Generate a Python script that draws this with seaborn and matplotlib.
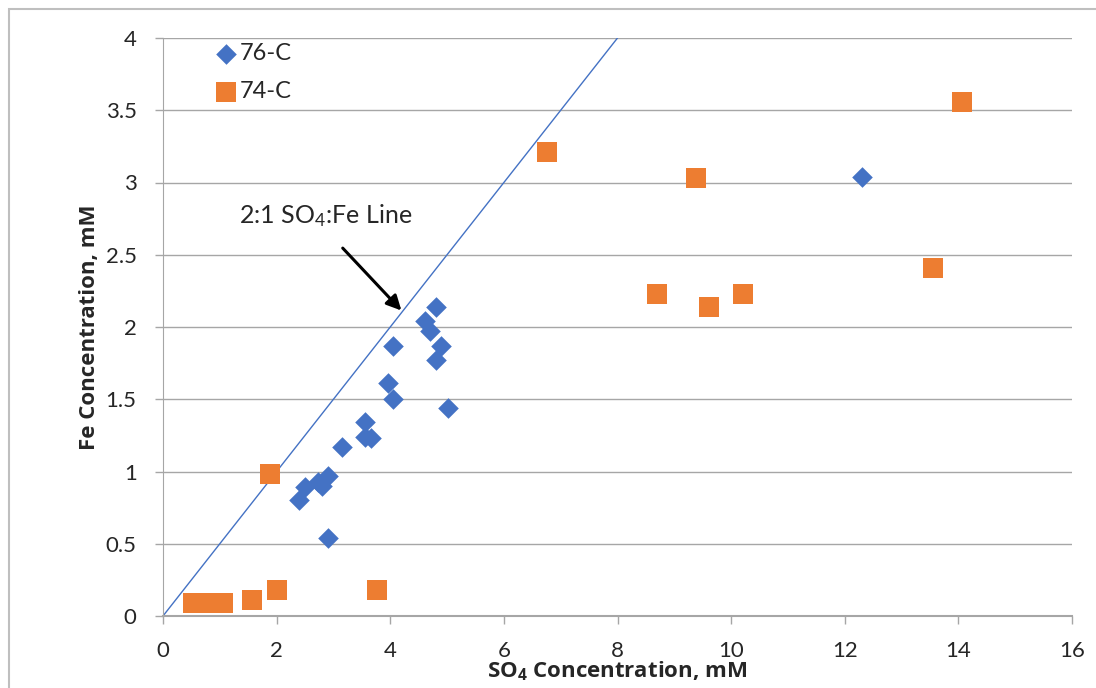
import matplotlib
matplotlib.use('Agg')
import matplotlib.pyplot as plt
import seaborn as sns
import pandas as pd

# 76-C samples (diamonds)
so4_76 = [2.39, 2.50, 2.73, 2.80, 2.90, 2.90, 3.15, 3.56, 3.56, 3.66, 3.96, 4.05,
          4.05, 4.61, 4.70, 4.81, 4.81, 4.89, 5.02, 12.31]
fe_76 = [0.80, 0.89, 0.93, 0.90, 0.97, 0.54, 1.17, 1.34, 1.24, 1.23, 1.61, 1.50,
         1.87, 2.04, 1.97, 2.14, 1.77, 1.87, 1.44, 3.04]

# 74-C samples (squares)
so4_74 = [0.53, 0.79, 1.06, 1.57, 2.00, 1.88, 3.77, 6.76, 9.38, 8.70, 9.61, 10.21,
          13.56, 14.07]
fe_74 = [0.09, 0.09, 0.09, 0.11, 0.18, 0.98, 0.18, 3.21, 3.03, 2.23, 2.14, 2.23,
         2.41, 3.56]

# 2:1 SO4:Fe reference line
line_so4 = [0, 8]
line_fe = [0, 4]

xticks = [0, 2, 4, 6, 8, 10, 12, 14, 16]
yticks = [0, 0.5, 1, 1.5, 2, 2.5, 3, 3.5, 4]
ytick_labels = ['0', '0.5', '1', '1.5', '2', '2.5', '3', '3.5', '4']

sns.set_style('white')
plt.rcParams['font.family'] = ['Lato', 'DejaVu Sans']
plt.rcParams['mathtext.default'] = 'regular'

blue = '#4472C4'
orange = '#ED7D31'
grid = '#a6a6a6'

df76 = pd.DataFrame({'so4': so4_76, 'fe': fe_76})
df74 = pd.DataFrame({'so4': so4_74, 'fe': fe_74})

fig = plt.figure(figsize=(10.96, 6.88), dpi=100)
ax = fig.add_axes([163/1096, 1 - 616/688, (1072-163)/1096, (616-38)/688])

ax.plot(line_so4, line_fe, color=blue, lw=1.0, zorder=2)
sns.scatterplot(data=df76, x='so4', y='fe', marker='D', s=110, color=blue,
                linewidth=0, label='76-C', ax=ax, zorder=3)
sns.scatterplot(data=df74, x='so4', y='fe', marker='s', s=200, color=orange,
                linewidth=0, label='74-C', ax=ax, zorder=3)

ax.set_xlim(0, 16)
ax.set_ylim(0, 4)
ax.set_xticks(xticks)
ax.set_yticks(yticks)
ax.set_yticklabels(ytick_labels)
ax.yaxis.grid(True, color=grid, lw=1.0)
ax.xaxis.grid(False)
ax.set_axisbelow(True)

for s in ['top', 'right']:
    ax.spines[s].set_visible(False)
ax.spines['left'].set_color(grid)
ax.spines['bottom'].set_color(grid)
ax.spines['bottom'].set_linewidth(1.5)
ax.tick_params(axis='x', length=6, color=grid, width=1.0, pad=12, labelsize=16,
               bottom=True, direction='out')
ax.tick_params(axis='y', length=6, color=grid, width=1.0, pad=13, labelsize=16,
               left=True, direction='out')

label_font = dict(family=['Open Sans', 'DejaVu Sans'], fontsize=16, fontweight='bold')
ax.set_xlabel('SO$_4$ Concentration, mM', labelpad=-1, **label_font)
ax.set_ylabel('Fe Concentration, mM', labelpad=4, **label_font)

ax.annotate('', xy=(4.23, 2.10), xytext=(3.13, 2.56),
            arrowprops=dict(arrowstyle='-|>', color='black', lw=2.2,
                            mutation_scale=22))
ax.text(2.87, 2.77, '2:1 SO$_4$:Fe Line', fontsize=18, ha='center', va='center')

leg = ax.legend(loc='upper left', bbox_to_anchor=(0.043, 1.008), frameon=False,
                fontsize=17, handletextpad=0.0, labelspacing=0.72,
                borderaxespad=0, handlelength=1.2)

fig.add_artist(plt.Rectangle((9/1096, -0.1), 2, 1.1 - 9/688, transform=fig.transFigure,
                             fill=False, edgecolor='#bfbfbf', lw=1.5))

fig.savefig('out.png', dpi=100)
